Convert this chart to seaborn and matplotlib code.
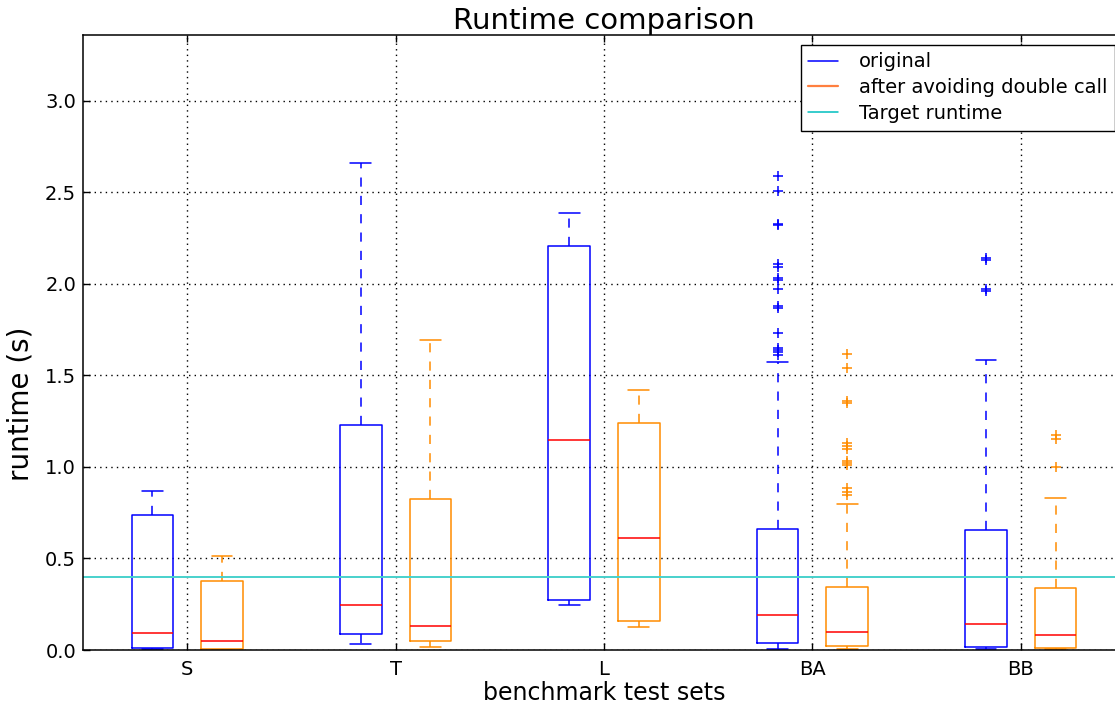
import matplotlib
matplotlib.use("Agg")
import matplotlib.pyplot as plt
import numpy as np
import seaborn as sns
from matplotlib.lines import Line2D

groups = ["S", "T", "L", "BA", "BB"]

# original runtimes (box statistics)
orig_q1 = [0.013, 0.087, 0.275, 0.036, 0.018]
orig_med = [0.095, 0.248, 1.149, 0.193, 0.142]
orig_q3 = [0.735, 1.228, 2.208, 0.663, 0.656]
orig_lo = [0.004, 0.034, 0.246, 0.003, 0.003]
orig_hi = [0.870, 2.661, 2.388, 1.574, 1.587]
orig_fliers = [[], [], [],
               [2.59, 2.51, 2.33, 2.32, 2.11, 2.09, 2.03, 2.02, 1.97, 1.88,
                1.87, 1.73, 1.65, 1.64, 1.63, 1.61],
               [2.14, 2.13, 1.97, 1.96]]

# after avoiding double call
fix_q1 = [0.007, 0.047, 0.158, 0.022, 0.011]
fix_med = [0.051, 0.131, 0.612, 0.100, 0.082]
fix_q3 = [0.377, 0.823, 1.239, 0.343, 0.339]
fix_lo = [0.002, 0.018, 0.127, 0.004, 0.003]
fix_hi = [0.514, 1.694, 1.421, 0.800, 0.832]
fix_fliers = [[], [], [],
              [1.616, 1.543, 1.36, 1.35, 1.133, 1.115, 1.10, 1.034, 1.02,
               1.011, 0.885, 0.865, 0.847],
              [1.175, 1.151, 1.002]]

target_runtime = 0.4


def make_stats(q1, med, q3, lo, hi, fliers):
    return [dict(q1=a, med=b, q3=c, whislo=d, whishi=e, fliers=f)
            for a, b, c, d, e, f in zip(q1, med, q3, lo, hi, fliers)]


sns.set_style("whitegrid", {
    "grid.color": "black", "grid.linestyle": ":", "axes.edgecolor": "black",
    "axes.labelcolor": "black", "text.color": "black",
    "xtick.color": "black", "ytick.color": "black",
    "xtick.direction": "in", "ytick.direction": "in",
    "xtick.top": True, "ytick.right": True,
    "xtick.bottom": True, "ytick.left": True,
})
plt.rcParams["font.family"] = ["DejaVu Sans"]

fig = plt.figure(figsize=(11.15, 7.05), dpi=100)
ax = fig.add_axes([83 / 1115, 55 / 705, 1042 / 1115, 615 / 705])

x = np.arange(1, len(groups) + 1)
off = 0.167


def draw(stats, pos, color):
    ax.bxp(stats, positions=pos, widths=0.2, manage_ticks=False,
           boxprops=dict(color=color, lw=1.1),
           whiskerprops=dict(color=color, lw=1.1, linestyle=(0, (6, 6))),
           capprops=dict(color=color, lw=1.1),
           medianprops=dict(color="red", lw=1.1),
           flierprops=dict(marker="+", markeredgecolor=color, markersize=7,
                           markeredgewidth=1.1, linestyle="none"))


draw(make_stats(orig_q1, orig_med, orig_q3, orig_lo, orig_hi, orig_fliers),
     x - off, "blue")
draw(make_stats(fix_q1, fix_med, fix_q3, fix_lo, fix_hi, fix_fliers),
     x + off, "darkorange")
ax.axhline(target_runtime, color="mediumturquoise", lw=1.4)

ax.set_xlim(0.5, 5.5)
ax.set_ylim(0, 3.36)
ax.set_xticks(x)
ax.set_xticklabels(groups)
ax.set_yticks(np.arange(0, 3.01, 0.5))
ax.set_yticklabels([f"{v:.1f}" for v in np.arange(0, 3.01, 0.5)])
ax.tick_params(labelsize=14, length=5, width=1, color="black", labelcolor="black")
ax.tick_params(axis="x", pad=7)
ax.tick_params(axis="y", pad=5)
for s in ax.spines.values():
    s.set_linewidth(1.1)
    s.set_color("black")
ax.grid(True, color="black", linestyle=(0, (1, 3)), lw=1.0)

ax.set_title("Runtime comparison", fontsize=21, pad=4, color="black")
ax.set_xlabel("benchmark test sets", fontsize=17, labelpad=2, color="black")
ax.set_ylabel("runtime (s)", fontsize=20, color="black")
ax.yaxis.set_label_coords(-0.047, 0.40)

handles = [Line2D([], [], color="blue", lw=1.1),
           Line2D([], [], color="#ff7f3f", lw=1.6),
           Line2D([], [], color="c", lw=1.1)]
leg = ax.legend(handles, ["original", "after avoiding double call", "Target runtime"],
                loc="upper right", fontsize=14, frameon=True, fancybox=False,
                edgecolor="black", framealpha=1, handlelength=1.5,
                handletextpad=1.1, labelspacing=0.35, borderaxespad=0.5)
leg.get_frame().set_linewidth(1.0)
for t in leg.get_texts():
    t.set_color("black")

fig.savefig("out.png", dpi=100)
